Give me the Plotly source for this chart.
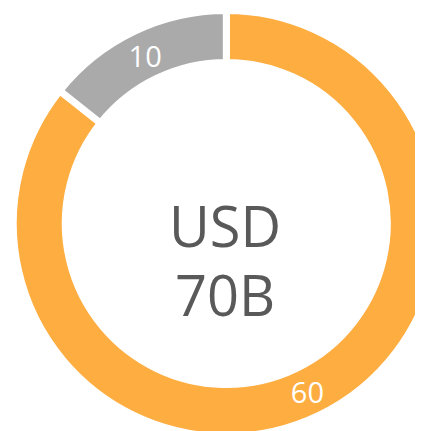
import plotly.graph_objects as go

labels = ["Main", "Other"]
values = [60, 10]
colors = ["#FEAD40", "#AAAAAA"]
center_lines = ["USD", "70B"]

W, H = 460, 460
off = 8.0  # page body margin
cx, cy = 226.3 - off, 223.5 - off
r = 213.0

fig = go.Figure(go.Pie(
    labels=labels,
    values=values,
    sort=False,
    direction="clockwise",
    rotation=0,
    hole=0.756,
    marker=dict(colors=colors, line=dict(color="white", width=7)),
    textinfo="value",
    textposition="inside",
    insidetextorientation="horizontal",
    textfont=dict(color="white", size=29, family="Open Sans"),
    domain=dict(x=[(cx - r) / W, (cx + r) / W], y=[(H - cy - r) / H, (H - cy + r) / H]),
    showlegend=False,
    hoverinfo="none",
))

text_x = 224.5 - off
for txt, ty in zip(center_lines, [225 - off, 294 - off]):
    fig.add_annotation(
        x=text_x / W, y=(H - ty) / H, xref="paper", yref="paper",
        xanchor="center", yanchor="middle",
        text=txt, showarrow=False,
        font=dict(size=56, color="#595959", family="Open Sans"),
    )

fig.update_layout(
    width=W, height=H,
    margin=dict(l=0, r=0, t=0, b=0),
    paper_bgcolor="white", plot_bgcolor="white",
)

fig.write_html("out.html")
